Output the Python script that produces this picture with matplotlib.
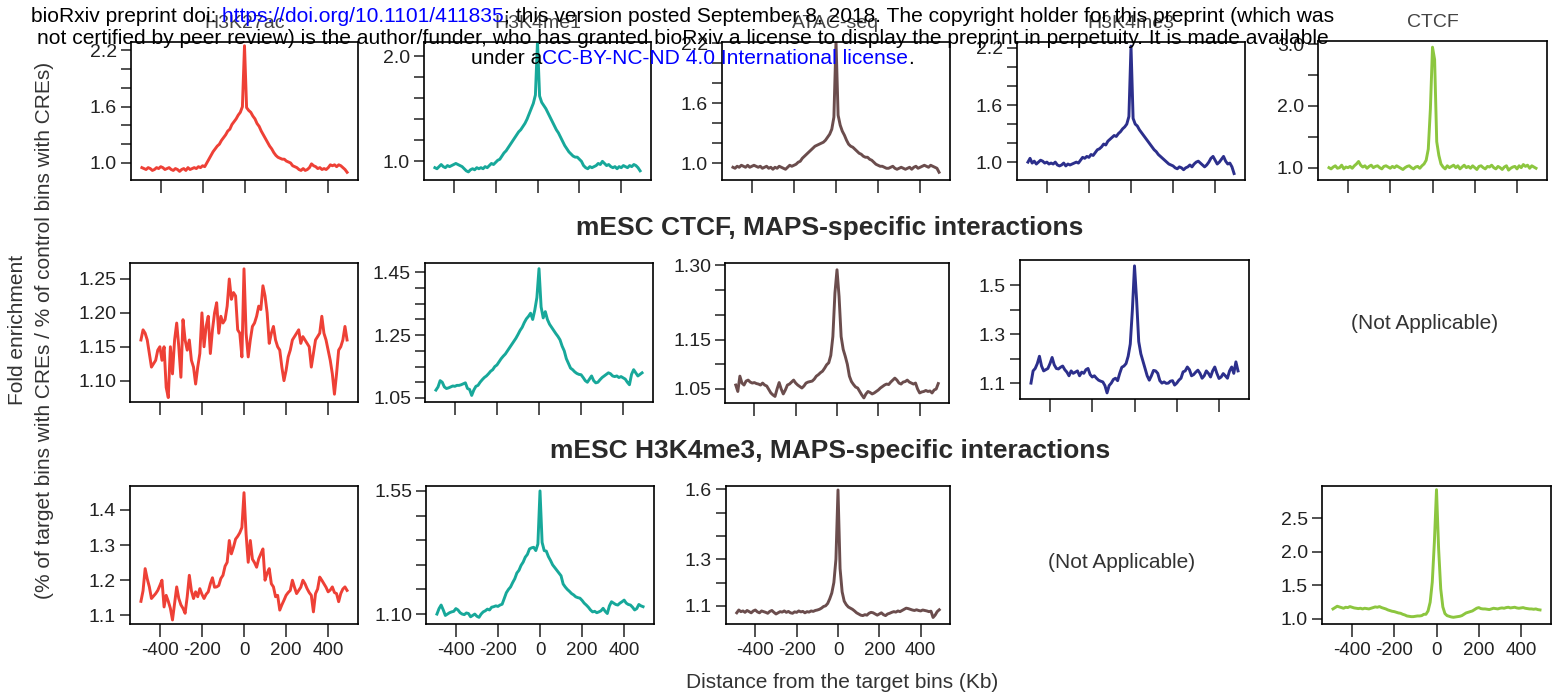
import numpy as np
import matplotlib
matplotlib.use('Agg')
import matplotlib.pyplot as plt
from matplotlib.ticker import FixedLocator, FormatStrFormatter

plt.rcParams['font.family'] = ['Liberation Sans', 'DejaVu Sans']
plt.rcParams['axes.unicode_minus'] = False

# bin centres, Kb from the target bin
dist = np.arange(-490, 491, 10)
x_ticks = [-400, -200, 0, 200, 400]

# ---- mESC H3K27ac (row 1)
r1_k27ac = [
    0.95, 0.94, 0.93, 0.95, 0.94, 0.92, 0.93, 0.95, 0.94, 0.96, 0.95,
    0.93, 0.94, 0.95, 0.93, 0.92, 0.94, 0.93, 0.91, 0.93, 0.94, 0.92,
    0.95, 0.93, 0.94, 0.95, 0.94, 0.96, 0.95, 0.97, 0.96, 1.00, 1.04,
    1.08, 1.12, 1.15, 1.18, 1.20, 1.24, 1.27, 1.30, 1.34, 1.36, 1.41,
    1.44, 1.47, 1.51, 1.54, 1.60, 2.25, 1.59, 1.56, 1.54, 1.50, 1.47,
    1.42, 1.39, 1.34, 1.30, 1.26, 1.22, 1.18, 1.15, 1.11, 1.08, 1.06,
    1.05, 1.04, 1.04, 1.02, 1.01, 1.00, 0.97, 0.96, 0.95, 0.93, 0.92,
    0.94, 0.92, 0.93, 0.95, 0.99, 0.97, 0.96, 0.94, 0.95, 0.93, 0.94,
    0.93, 0.95, 0.98, 0.97, 0.98, 0.96, 0.98, 0.97, 0.95, 0.93, 0.90]
r1_k4me1 = [
    0.94, 0.93, 0.95, 0.97, 0.95, 0.94, 0.96, 0.95, 0.96, 0.97, 0.98,
    0.97, 0.96, 0.95, 0.93, 0.91, 0.90, 0.92, 0.93, 0.92, 0.94, 0.93,
    0.94, 0.93, 0.95, 0.94, 0.96, 0.98, 0.97, 0.99, 1.01, 1.02, 1.05,
    1.08, 1.10, 1.13, 1.16, 1.19, 1.22, 1.25, 1.28, 1.30, 1.33, 1.36,
    1.40, 1.45, 1.50, 1.55, 1.63, 2.14, 1.62, 1.56, 1.53, 1.50, 1.46,
    1.42, 1.38, 1.34, 1.30, 1.27, 1.23, 1.19, 1.15, 1.12, 1.09, 1.07,
    1.05, 1.04, 1.04, 1.02, 1.00, 0.96, 0.94, 0.93, 0.95, 0.94, 0.95,
    0.96, 0.98, 0.97, 1.00, 0.98, 0.96, 0.97, 0.95, 0.94, 0.95, 0.93,
    0.95, 0.94, 0.96, 0.95, 0.94, 0.96, 0.95, 0.97, 0.96, 0.94, 0.91]
r1_atac = [
    0.96, 0.95, 0.97, 0.96, 0.98, 0.97, 0.96, 0.98, 0.96, 0.97, 0.98,
    0.97, 0.96, 0.97, 0.95, 0.96, 0.97, 0.95, 0.96, 0.94, 0.96, 0.95,
    0.97, 0.96, 0.95, 0.94, 0.96, 0.98, 0.97, 0.98, 0.99, 1.01, 1.02,
    1.05, 1.07, 1.09, 1.11, 1.13, 1.15, 1.17, 1.18, 1.19, 1.20, 1.21,
    1.23, 1.26, 1.29, 1.34, 1.46, 2.22, 1.48, 1.38, 1.32, 1.28, 1.23,
    1.19, 1.17, 1.16, 1.14, 1.12, 1.10, 1.09, 1.07, 1.06, 1.06, 1.04,
    1.03, 1.01, 0.99, 0.98, 0.97, 0.97, 0.96, 0.95, 0.95, 0.96, 0.97,
    0.95, 0.94, 0.95, 0.96, 0.95, 0.94, 0.95, 0.96, 0.94, 0.96, 0.97,
    0.95, 0.96, 0.97, 0.98, 0.97, 0.96, 0.98, 0.97, 0.96, 0.95, 0.91]
r1_k4me3 = [
    1.00, 1.04, 0.99, 1.01, 0.98, 1.00, 1.02, 1.01, 0.99, 1.00, 0.98,
    0.99, 0.98, 1.00, 0.97, 0.96, 0.97, 0.99, 0.96, 0.98, 0.97, 0.98,
    0.99, 1.00, 0.99, 1.02, 1.05, 1.04, 1.06, 1.05, 1.08, 1.07, 1.10,
    1.13, 1.14, 1.16, 1.19, 1.18, 1.22, 1.24, 1.26, 1.28, 1.27, 1.30,
    1.32, 1.35, 1.37, 1.40, 1.48, 2.22, 1.46, 1.40, 1.38, 1.34, 1.31,
    1.28, 1.25, 1.22, 1.19, 1.16, 1.13, 1.11, 1.08, 1.06, 1.04, 1.02,
    1.00, 0.98, 0.97, 0.96, 0.94, 0.93, 0.95, 0.94, 0.92, 0.94, 0.95,
    0.97, 0.95, 0.98, 1.00, 1.01, 0.99, 0.97, 0.95, 0.97, 1.00, 1.04,
    1.06, 1.02, 0.98, 1.00, 1.03, 1.06, 1.01, 0.98, 0.99, 0.95, 0.88]
r1_ctcf = [
    1.00, 0.98, 1.01, 1.03, 0.99, 1.00, 1.04, 0.98, 1.01, 1.00, 1.02,
    0.99, 1.03, 1.06, 1.10, 1.04, 1.01, 1.03, 0.99, 1.02, 1.04, 1.00,
    1.02, 1.03, 1.00, 0.98, 1.02, 1.03, 1.01, 0.99, 1.02, 1.00, 1.03,
    1.01, 0.99, 0.97, 1.00, 1.02, 1.03, 1.00, 0.98, 1.01, 1.02, 0.99,
    1.03, 1.06, 1.12, 1.30, 1.95, 2.95, 2.75, 1.42, 1.20, 1.06, 1.01,
    0.98, 1.03, 1.00, 1.02, 1.04, 1.00, 1.03, 0.98, 1.01, 1.04, 1.00,
    1.02, 0.99, 1.03, 1.00, 0.97, 1.02, 1.03, 1.00, 0.98, 1.02, 1.01,
    1.04, 1.00, 0.98, 1.02, 1.00, 0.97, 1.01, 1.03, 0.96, 0.99, 1.01,
    1.02, 0.98, 1.03, 1.00, 1.05, 1.02, 1.04, 0.99, 1.03, 1.01, 0.99]

# ---- mESC CTCF, MAPS-specific interactions (row 2)
r2_k27ac = [
    1.160, 1.175, 1.170, 1.160, 1.140, 1.120, 1.125, 1.130, 1.145, 1.150, 1.130,
    1.150, 1.090, 1.075, 1.150, 1.110, 1.160, 1.185, 1.150, 1.105, 1.190, 1.160,
    1.145, 1.160, 1.130, 1.120, 1.095, 1.120, 1.140, 1.200, 1.150, 1.180, 1.195,
    1.140, 1.175, 1.200, 1.215, 1.170, 1.195, 1.185, 1.190, 1.210, 1.250, 1.220,
    1.230, 1.225, 1.175, 1.170, 1.135, 1.265, 1.170, 1.135, 1.160, 1.180, 1.185,
    1.195, 1.210, 1.205, 1.240, 1.225, 1.200, 1.155, 1.170, 1.180, 1.160, 1.150,
    1.145, 1.120, 1.100, 1.115, 1.135, 1.145, 1.160, 1.165, 1.170, 1.175, 1.155,
    1.165, 1.160, 1.155, 1.150, 1.120, 1.140, 1.160, 1.165, 1.170, 1.195, 1.170,
    1.160, 1.145, 1.130, 1.110, 1.080, 1.110, 1.145, 1.150, 1.160, 1.180, 1.160]
r2_k4me1 = [
    1.075, 1.085, 1.105, 1.100, 1.085, 1.080, 1.082, 1.085, 1.088, 1.087, 1.090,
    1.090, 1.092, 1.095, 1.098, 1.080, 1.077, 1.058, 1.075, 1.087, 1.090, 1.100,
    1.108, 1.115, 1.120, 1.127, 1.135, 1.140, 1.150, 1.155, 1.165, 1.175, 1.183,
    1.190, 1.200, 1.210, 1.220, 1.230, 1.240, 1.252, 1.265, 1.275, 1.290, 1.302,
    1.310, 1.320, 1.300, 1.330, 1.370, 1.462, 1.340, 1.305, 1.325, 1.300, 1.285,
    1.275, 1.265, 1.255, 1.246, 1.235, 1.215, 1.200, 1.175, 1.160, 1.145, 1.140,
    1.133, 1.128, 1.125, 1.124, 1.115, 1.105, 1.100, 1.110, 1.120, 1.105, 1.098,
    1.100, 1.108, 1.115, 1.120, 1.125, 1.130, 1.127, 1.120, 1.118, 1.120, 1.115,
    1.118, 1.114, 1.110, 1.100, 1.092, 1.125, 1.140, 1.130, 1.120, 1.125, 1.130]
r2_atac = [
    1.058, 1.045, 1.076, 1.062, 1.058, 1.066, 1.068, 1.064, 1.062, 1.063, 1.061,
    1.060, 1.058, 1.062, 1.058, 1.056, 1.049, 1.042, 1.038, 1.035, 1.050, 1.063,
    1.050, 1.040, 1.048, 1.058, 1.060, 1.064, 1.068, 1.062, 1.058, 1.055, 1.052,
    1.056, 1.062, 1.064, 1.065, 1.066, 1.070, 1.076, 1.079, 1.083, 1.086, 1.092,
    1.099, 1.103, 1.118, 1.156, 1.244, 1.291, 1.237, 1.156, 1.130, 1.116, 1.100,
    1.076, 1.065, 1.059, 1.054, 1.052, 1.045, 1.038, 1.032, 1.040, 1.045, 1.043,
    1.040, 1.042, 1.045, 1.048, 1.052, 1.055, 1.058, 1.060, 1.059, 1.064, 1.068,
    1.072, 1.068, 1.062, 1.060, 1.064, 1.065, 1.068, 1.064, 1.062, 1.060, 1.062,
    1.050, 1.042, 1.044, 1.045, 1.047, 1.045, 1.046, 1.042, 1.048, 1.050, 1.061]
r2_k4me3 = [
    1.100, 1.150, 1.160, 1.180, 1.210, 1.170, 1.150, 1.155, 1.160, 1.180, 1.205,
    1.175, 1.160, 1.158, 1.165, 1.170, 1.155, 1.145, 1.130, 1.150, 1.140, 1.145,
    1.150, 1.130, 1.145, 1.140, 1.155, 1.160, 1.135, 1.125, 1.130, 1.120, 1.112,
    1.108, 1.105, 1.090, 1.060, 1.090, 1.100, 1.115, 1.120, 1.110, 1.140, 1.165,
    1.170, 1.180, 1.210, 1.260, 1.400, 1.580, 1.440, 1.270, 1.220, 1.190, 1.160,
    1.130, 1.112, 1.130, 1.152, 1.150, 1.140, 1.110, 1.100, 1.105, 1.099, 1.100,
    1.108, 1.110, 1.092, 1.100, 1.112, 1.120, 1.146, 1.150, 1.166, 1.155, 1.130,
    1.135, 1.145, 1.153, 1.140, 1.120, 1.130, 1.150, 1.140, 1.125, 1.150, 1.166,
    1.140, 1.119, 1.125, 1.139, 1.130, 1.120, 1.150, 1.166, 1.140, 1.187, 1.150]

# ---- mESC H3K4me3, MAPS-specific interactions (row 3)
r3_k27ac = [
    1.140, 1.170, 1.233, 1.204, 1.181, 1.148, 1.155, 1.162, 1.171, 1.185, 1.200,
    1.124, 1.157, 1.140, 1.120, 1.087, 1.134, 1.181, 1.148, 1.130, 1.120, 1.106,
    1.153, 1.214, 1.170, 1.148, 1.167, 1.153, 1.176, 1.160, 1.148, 1.160, 1.167,
    1.190, 1.207, 1.180, 1.181, 1.185, 1.205, 1.214, 1.240, 1.251, 1.313, 1.275,
    1.294, 1.317, 1.325, 1.335, 1.350, 1.449, 1.331, 1.251, 1.313, 1.260, 1.250,
    1.237, 1.261, 1.275, 1.289, 1.200, 1.220, 1.233, 1.190, 1.181, 1.153, 1.157,
    1.115, 1.130, 1.143, 1.157, 1.165, 1.171, 1.200, 1.180, 1.162, 1.171, 1.180,
    1.200, 1.190, 1.176, 1.165, 1.157, 1.110, 1.162, 1.175, 1.209, 1.200, 1.190,
    1.180, 1.167, 1.172, 1.181, 1.165, 1.162, 1.139, 1.162, 1.175, 1.181, 1.171]
r3_k4me1 = [
    1.100, 1.120, 1.133, 1.115, 1.095, 1.100, 1.105, 1.108, 1.110, 1.120, 1.115,
    1.105, 1.100, 1.098, 1.104, 1.102, 1.090, 1.095, 1.100, 1.092, 1.088, 1.100,
    1.108, 1.112, 1.118, 1.115, 1.125, 1.127, 1.130, 1.128, 1.133, 1.136, 1.157,
    1.178, 1.190, 1.199, 1.215, 1.229, 1.250, 1.260, 1.278, 1.290, 1.308, 1.318,
    1.338, 1.342, 1.344, 1.332, 1.356, 1.550, 1.362, 1.332, 1.330, 1.310, 1.296,
    1.280, 1.270, 1.260, 1.250, 1.240, 1.210, 1.199, 1.190, 1.183, 1.175, 1.170,
    1.163, 1.160, 1.158, 1.150, 1.140, 1.133, 1.125, 1.115, 1.108, 1.110, 1.105,
    1.108, 1.112, 1.121, 1.110, 1.102, 1.130, 1.145, 1.140, 1.135, 1.133, 1.140,
    1.145, 1.151, 1.140, 1.135, 1.133, 1.125, 1.115, 1.120, 1.135, 1.130, 1.127]
r3_atac = [
    1.070, 1.082, 1.075, 1.078, 1.072, 1.080, 1.075, 1.070, 1.078, 1.082, 1.074,
    1.070, 1.078, 1.075, 1.072, 1.068, 1.076, 1.080, 1.072, 1.065, 1.070, 1.075,
    1.073, 1.078, 1.072, 1.076, 1.070, 1.068, 1.074, 1.072, 1.078, 1.074, 1.076,
    1.070, 1.075, 1.073, 1.078, 1.076, 1.080, 1.082, 1.085, 1.090, 1.097, 1.100,
    1.110, 1.130, 1.155, 1.200, 1.300, 1.597, 1.260, 1.160, 1.120, 1.105, 1.095,
    1.090, 1.085, 1.078, 1.070, 1.065, 1.060, 1.058, 1.062, 1.060, 1.068, 1.072,
    1.070, 1.065, 1.060, 1.065, 1.070, 1.062, 1.058, 1.065, 1.068, 1.072, 1.075,
    1.073, 1.078, 1.075, 1.080, 1.085, 1.090, 1.088, 1.085, 1.082, 1.080, 1.083,
    1.080, 1.078, 1.082, 1.080, 1.078, 1.075, 1.077, 1.050, 1.060, 1.075, 1.083]
r3_ctcf = [
    1.150, 1.170, 1.190, 1.180, 1.170, 1.160, 1.175, 1.170, 1.185, 1.175, 1.165,
    1.160, 1.155, 1.160, 1.150, 1.160, 1.155, 1.150, 1.160, 1.170, 1.180, 1.175,
    1.185, 1.170, 1.160, 1.150, 1.135, 1.125, 1.115, 1.110, 1.100, 1.090, 1.085,
    1.070, 1.060, 1.045, 1.040, 1.035, 1.035, 1.040, 1.045, 1.045, 1.050, 1.070,
    1.070, 1.120, 1.250, 1.550, 2.150, 2.930, 2.050, 1.450, 1.180, 1.080, 1.050,
    1.040, 1.030, 1.025, 1.030, 1.035, 1.040, 1.050, 1.070, 1.090, 1.100, 1.110,
    1.120, 1.140, 1.160, 1.170, 1.155, 1.150, 1.150, 1.145, 1.140, 1.150, 1.160,
    1.155, 1.150, 1.160, 1.165, 1.160, 1.170, 1.175, 1.165, 1.170, 1.175, 1.165,
    1.160, 1.165, 1.170, 1.160, 1.155, 1.150, 1.150, 1.145, 1.150, 1.140, 1.135]

RED, TEAL, BROWN, NAVY, GREEN = '#EE4036', '#17A89A', '#6B4D4D', '#2C2F8C', '#8CC63F'
col_titles = ['H3K27ac', 'H3K4me1', 'ATAC-seq', 'H3K4me3', 'CTCF']

W, H = 1555, 698
fig = plt.figure(figsize=(W / 100, H / 100), dpi=100)


def add_panel(box, y, color, ylim, major, minor, fmt, show_x, title=None):
    l, t, r, b = box
    ax = fig.add_axes([l / W, 1 - b / H, (r - l) / W, (b - t) / H])
    ax.plot(dist, y, color=color, lw=2.1, solid_joinstyle='round')
    ax.set_xlim(-542, 542)
    ax.set_ylim(*ylim)
    ax.set_xticks(x_ticks)
    ax.yaxis.set_major_locator(FixedLocator(major))
    ax.yaxis.set_minor_locator(FixedLocator(minor))
    ax.yaxis.set_major_formatter(FormatStrFormatter(fmt))
    ax.tick_params(axis='x', direction='out', length=9, width=1.1,
                   labelbottom=show_x, labelsize=13.5, pad=4, colors='#222')
    ax.tick_params(axis='y', which='both', direction='out', length=7, width=1.1,
                   labelsize=14, pad=3, colors='#222')
    for s in ax.spines.values():
        s.set_linewidth(1.2)
    if title:
        ax.set_title(title, fontsize=14, color='#444', pad=10)
    return ax


# row 1
add_panel((131, 42, 358, 180), r1_k27ac, RED, (0.818, 2.29),
          [1.0, 1.6, 2.2], [1.2, 1.4, 1.8, 2.0], '%.1f', False, col_titles[0])
add_panel((424, 42, 651, 180), r1_k4me1, TEAL, (0.823, 2.133),
          [1.0, 2.0], [1.2, 1.4, 1.6, 1.8], '%.1f', False, col_titles[1])
add_panel((722, 42, 950, 180), r1_atac, BROWN, (0.833, 2.21),
          [1.0, 1.6, 2.2], [1.2, 1.4, 1.8, 2.0], '%.1f', False, col_titles[2])
add_panel((1017, 42, 1245, 180), r1_k4me3, NAVY, (0.812, 2.263),
          [1.0, 1.6, 2.2], [1.2, 1.4, 1.8, 2.0], '%.1f', False, col_titles[3])
add_panel((1318, 41, 1547, 180), r1_ctcf, GREEN, (0.80, 3.05),
          [1.0, 2.0, 3.0], [1.5, 2.5], '%.1f', False, col_titles[4])

# row 2
add_panel((130, 263, 358, 402), r2_k27ac, RED, (1.0685, 1.2736),
          [1.10, 1.15, 1.20, 1.25], [], '%.2f', False)
add_panel((425, 263, 653, 402), r2_k4me1, TEAL, (1.037, 1.48),
          [1.05, 1.25, 1.45], [1.10, 1.15, 1.20, 1.30, 1.35, 1.40], '%.2f', False)
add_panel((725, 263, 949, 403), r2_atac, BROWN, (1.0217, 1.3047),
          [1.05, 1.15, 1.30], [1.10, 1.20, 1.25], '%.2f', False)
add_panel((1020, 260, 1249, 399), r2_k4me3, NAVY, (1.035, 1.604),
          [1.1, 1.3, 1.5], [1.2, 1.4], '%.1f', False)

# row 3
add_panel((130, 486, 358, 624), r3_k27ac, RED, (1.0755, 1.468),
          [1.1, 1.2, 1.3, 1.4], [], '%.1f', True)
add_panel((426, 486, 654, 624), r3_k4me1, TEAL, (1.0637, 1.568),
          [1.10, 1.55], [1.19, 1.28, 1.37, 1.46], '%.2f', True)
add_panel((726, 486, 950, 624), r3_atac, BROWN, (1.022, 1.614),
          [1.1, 1.3, 1.6], [1.2, 1.4, 1.5], '%.1f', True)
add_panel((1322, 486, 1551, 624), r3_ctcf, GREEN, (0.925, 2.985),
          [1.0, 1.5, 2.0, 2.5], [], '%.1f', True)

# section headers and placeholders
fig.text(830 / W, 1 - 228 / H, 'mESC CTCF, MAPS-specific interactions',
         fontsize=19, fontweight='bold', color='#2a2a2a', ha='center', va='center')
fig.text(830 / W, 1 - 451 / H, 'mESC H3K4me3, MAPS-specific interactions',
         fontsize=19, fontweight='bold', color='#2a2a2a', ha='center', va='center')
fig.text(1425 / W, 1 - 323 / H, '(Not Applicable)', fontsize=15, color='#333',
         ha='center', va='center')
fig.text(1122 / W, 1 - 563 / H, '(Not Applicable)', fontsize=15, color='#333',
         ha='center', va='center')

# axis labels
fig.text(842 / W, 1 - 683 / H, 'Distance from the target bins (Kb)', fontsize=15,
         color='#333', ha='center', va='center')
fig.text(18 / W, 1 - 330 / H, 'Fold enrichment', fontsize=15, rotation=90,
         color='#333', ha='center', va='center')
fig.text(45 / W, 1 - 330 / H, '(% of target bins with CREs / % of control bins with CREs)',
         fontsize=15, rotation=90, color='#333', ha='center', va='center')

# bioRxiv banner
renderer = fig.canvas.get_renderer()


def banner_line(x, y, parts, size=15.1):
    for s, c in parts:
        t = fig.text(x / W, 1 - y / H, s, color=c, fontsize=size, ha='left', va='center',
                     zorder=10)
        x += t.get_window_extent(renderer).width


banner_line(31, 16, [('bioRxiv preprint doi:', 'black'),
                     (' https://doi.org/10.1101/411835', 'blue'),
                     ('; this version posted September 8, 2018. The copyright holder for this preprint (which was', 'black')])
banner_line(37, 38, [('not certified by peer review) is the author/funder, who has granted bioRxiv a license to display the preprint in perpetuity. It is made available', 'black')])
banner_line(471, 59, [('under a', 'black'),
                      ('CC-BY-NC-ND 4.0 International license', 'blue'),
                      ('.', 'black')])

fig.savefig('out.png', dpi=100)
